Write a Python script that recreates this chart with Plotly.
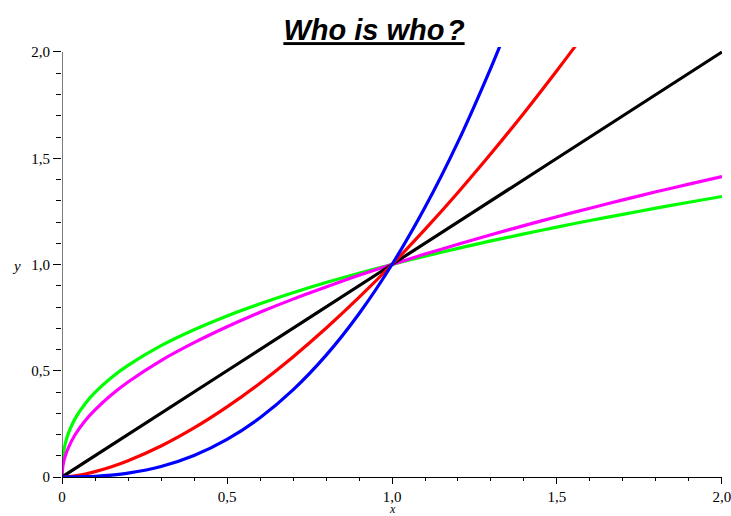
import plotly.graph_objects as go

# values
x_green = [0, 0.002, 0.005, 0.01, 0.02, 0.04, 0.07, 0.1, 0.15, 0.2, 0.3, 0.4, 0.5, 0.6, 0.7, 0.8, 0.9, 1.0,
           1.1, 1.2, 1.3, 1.4, 1.5, 1.6, 1.7, 1.8, 1.9, 2.0]
y_green = [0, 0.083, 0.120, 0.158, 0.209, 0.276, 0.345, 0.398, 0.468, 0.525, 0.618, 0.693, 0.758, 0.815, 0.867,
           0.915, 0.959, 1.0, 1.039, 1.076, 1.111, 1.144, 1.176, 1.207, 1.236, 1.265, 1.293, 1.320]

x_magenta = x_green
y_magenta = [0, 0.045, 0.071, 0.100, 0.141, 0.200, 0.265, 0.316, 0.387, 0.447, 0.548, 0.632, 0.707, 0.775, 0.837,
             0.894, 0.949, 1.0, 1.049, 1.095, 1.140, 1.183, 1.225, 1.265, 1.304, 1.342, 1.378, 1.414]

x_black = [0, 0.5, 1.0, 1.5, 2.0]
y_black = [0, 0.5, 1.0, 1.5, 2.0]

x_red = [0, 0.02, 0.04, 0.07, 0.1, 0.15, 0.2, 0.3, 0.4, 0.5, 0.6, 0.7, 0.8, 0.9, 1.0, 1.1, 1.2, 1.3, 1.4, 1.5,
         1.55, 1.6]
y_red = [0, 0.0019, 0.0058, 0.0142, 0.0251, 0.048, 0.0762, 0.1457, 0.2308, 0.3299, 0.4416, 0.5651, 0.6998,
         0.8449, 1.0, 1.165, 1.339, 1.522, 1.713, 1.913, 2.016, 2.121]

x_blue = [0, 0.04, 0.07, 0.1, 0.15, 0.2, 0.3, 0.4, 0.5, 0.6, 0.7, 0.8, 0.9, 1.0, 1.1, 1.2, 1.3, 1.35, 1.4]
y_blue = [0, 0.0003, 0.0013, 0.0032, 0.0087, 0.0179, 0.0493, 0.1012, 0.1768, 0.2789, 0.41, 0.5724, 0.7684,
          1.0, 1.269, 1.577, 1.927, 2.117, 2.319]

tick_vals = [0, 0.5, 1.0, 1.5, 2.0]
tick_text = ["0", "0,5", "1,0", "1,5", "2,0"]

series = [
    (x_green, y_green, "#00ff00"),
    (x_magenta, y_magenta, "#ff00ff"),
    (x_black, y_black, "#000000"),
    (x_red, y_red, "#ff0000"),
    (x_blue, y_blue, "#0000ff"),
]

fig = go.Figure()
for xs, ys, c in series:
    fig.add_trace(go.Scatter(x=xs, y=ys, mode="lines",
                             line=dict(color=c, width=3.2, shape="spline", smoothing=0.8),
                             showlegend=False, hoverinfo="skip", cliponaxis=True))

serif = "Liberation Serif, Times New Roman, serif"
W, H = 731, 516
L, R, T, B = 62, 722, 47, 477

fig.update_layout(
    width=W, height=H,
    margin=dict(l=L, r=W - R, t=T, b=H - B, autoexpand=False),
    paper_bgcolor="white", plot_bgcolor="white",
    title=dict(text="<u><b><i>Who is who\u200a?</i></b></u>",
               font=dict(family="Liberation Sans, Arial, sans-serif", size=29, color="black"),
               x=374 / W, xref="container", xanchor="center",
               y=1 - 30 / H, yref="container", yanchor="middle"),
    xaxis=dict(range=[-0.0001, 2.0001], showgrid=False, zeroline=False, automargin=False,
               showline=True, linecolor="black", linewidth=1,
               tickmode="array", tickvals=tick_vals, ticktext=tick_text,
               ticks="outside", ticklen=6, tickwidth=1, tickcolor="black",
               ticklabeloverflow="allow",
               minor=dict(dtick=0.1, ticks="outside", ticklen=3, tickcolor="black", tickwidth=1),
               tickfont=dict(family=serif, size=15, color="black")),
    yaxis=dict(range=[0, 2.0235], showgrid=False, zeroline=False, showline=False, automargin=False,
               tickmode="array", tickvals=tick_vals, ticktext=tick_text,
               ticks="outside", ticklen=8, tickwidth=1, tickcolor="black",
               ticklabeloverflow="allow",
               minor=dict(dtick=0.1, ticks="outside", ticklen=5, tickcolor="black", tickwidth=1),
               tickfont=dict(family=serif, size=15, color="black")),
    shapes=[dict(type="line", xref="x", yref="y", x0=0, x1=0, y0=0, y1=2.0,
                 line=dict(color="black", width=1))],
)

fig.add_annotation(text="<i>y</i>", xref="paper", yref="paper",
                   x=(16 - L) / (R - L), y=(B - 266) / (B - T), xanchor="center", yanchor="middle",
                   showarrow=False, font=dict(family=serif, size=15, color="black"))
fig.add_annotation(text="<i>x</i>", xref="paper", yref="paper",
                   x=(392 - L) / (R - L), y=(B - 517) / (B - T), xanchor="center", yanchor="bottom",
                   borderpad=0, showarrow=False, font=dict(family=serif, size=12, color="black"))

fig.write_html("out.html", config={"displayModeBar": False},
               post_script="document.body.style.margin='0';")
